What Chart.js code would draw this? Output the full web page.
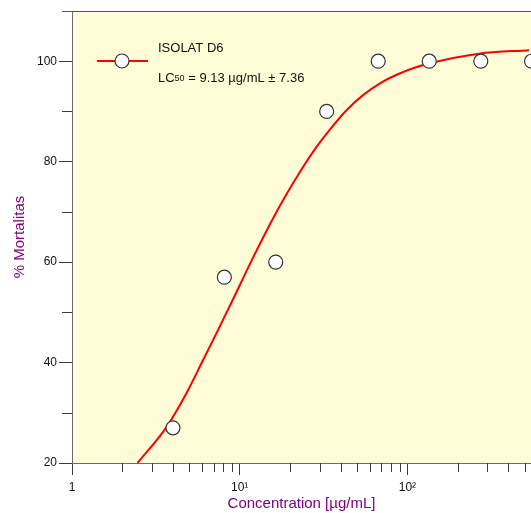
<!DOCTYPE html>
<html>
<head>
<meta charset="utf-8">
<script src="https://cdn.jsdelivr.net/npm/chart.js@4/dist/chart.umd.min.js"></script>
<style>
  html, body { margin: 0; padding: 0; background: #ffffff; overflow: hidden; }
  #wrap { width: 531px; height: 513px; position: relative; }
</style>
</head>
<body>
<div id="wrap"><canvas id="lcChart"></canvas></div>
<script>
// measured points
const concentrations = [4, 8.1, 16.4, 33, 67, 135, 274, 550];
const mortality = [27, 57, 60, 90, 100, 100, 100, 100];

// fitted curve
const fitX = [2.46, 3.67, 4.83, 6.05, 7.46, 9.16, 11.5, 14.5, 18.2, 22.9, 28.8, 34.5, 43.5, 54.6, 68.7, 86.3, 108, 136, 268, 532];
const fitY = [20, 27.2, 34.0, 40.5, 46.6, 52.7, 59.6, 66.3, 72.4, 78.0, 83.0, 86.4, 90.3, 93.3, 95.6, 97.3, 98.6, 99.6, 101.5, 102.2];

// axis ticks
const xMajorTicks = [1, 10, 100];
const xTickLabels = ['1', '10\u00b9', '10\u00b2'];
const xMinorTicks = [2, 3, 4, 5, 6, 7, 8, 9, 20, 30, 40, 50, 60, 70, 80, 90, 200, 300, 400, 500];
const yMajorTicks = [20, 40, 60, 80, 100];
const yMinorTicks = [30, 50, 70, 90, 110];

const legendName = 'ISOLAT D6';
const legendLC = ['LC', '50', ' = 9.13 \u00b5g/mL \u00b1 7.36'];

const FONT = '"Liberation Sans", Arial, sans-serif';
const AXIS_COLOR = '#6b6b6b';
const TICK_COLOR = '#3a3a3a';

// fill plot area, minor ticks, top border, legend
const decorPlugin = {
    id: 'decor',
    beforeDraw(chart) {
        const {ctx, chartArea: a} = chart;
        ctx.save();
        ctx.fillStyle = '#fffdd7';
        ctx.fillRect(a.left, a.top, a.right - a.left, a.bottom - a.top);
        ctx.restore();
    },
    afterDraw(chart) {
        const {ctx, chartArea: a, scales} = chart;
        ctx.save();
        ctx.strokeStyle = TICK_COLOR;
        ctx.lineWidth = 1;
        ctx.beginPath();
        xMinorTicks.forEach(v => {
            const px = Math.round(scales.x.getPixelForValue(v)) + 0.5;
            ctx.moveTo(px, a.bottom);
            ctx.lineTo(px, a.bottom + 9);
        });
        yMinorTicks.forEach(v => {
            const py = Math.round(scales.y.getPixelForValue(v)) + 0.5;
            ctx.moveTo(a.left - 10, py);
            ctx.lineTo(a.left, py);
        });
        ctx.stroke();

        // top frame line
        ctx.strokeStyle = '#555555';
        ctx.beginPath();
        ctx.moveTo(a.left - 10, Math.round(a.top) + 0.5);
        ctx.lineTo(a.right, Math.round(a.top) + 0.5);
        ctx.stroke();

        // legend
        const ly = a.top + 50;
        ctx.strokeStyle = '#ff0000';
        ctx.lineWidth = 2;
        ctx.beginPath();
        ctx.moveTo(a.left + 25, ly);
        ctx.lineTo(a.left + 76, ly);
        ctx.stroke();
        ctx.beginPath();
        ctx.arc(a.left + 50, ly, 7, 0, Math.PI * 2);
        ctx.fillStyle = '#ffffff';
        ctx.fill();
        ctx.lineWidth = 1.2;
        ctx.strokeStyle = '#333333';
        ctx.stroke();

        ctx.fillStyle = '#111111';
        ctx.textBaseline = 'middle';
        ctx.textAlign = 'left';
        ctx.font = '13px ' + FONT;
        let tx = a.left + 86;
        ctx.fillText(legendName, tx, a.top + 37);
        const y2 = a.top + 67;
        ctx.fillText(legendLC[0], tx, y2);
        tx += ctx.measureText(legendLC[0]).width;
        ctx.font = '9px ' + FONT;
        ctx.fillText(legendLC[1], tx, y2 + 1);
        tx += ctx.measureText(legendLC[1]).width;
        ctx.font = '13px ' + FONT;
        ctx.fillText(legendLC[2], tx, y2);
        ctx.restore();
    }
};

const ctx = document.getElementById('lcChart').getContext('2d');
new Chart(ctx, {
    type: 'scatter',
    data: {
        datasets: [{
            label: 'data',
            data: concentrations.map((c, i) => ({x: c, y: mortality[i]})),
            pointRadius: 7,
            pointBackgroundColor: '#ffffff',
            pointBorderColor: '#333333',
            pointBorderWidth: 1.2,
            showLine: false,
            clip: false
        }, {
            label: 'fit',
            data: fitX.map((c, i) => ({x: c, y: fitY[i]})),
            showLine: true,
            pointRadius: 0,
            borderColor: '#ff0000',
            borderWidth: 2,
            cubicInterpolationMode: 'monotone'
        }]
    },
    options: {
        responsive: true,
        maintainAspectRatio: false,
        animation: false,
        layout: { autoPadding: false, padding: { top: 11, right: 0, left: 0, bottom: 0 } },
        plugins: {
            legend: { display: false },
            tooltip: { enabled: false }
        },
        scales: {
            x: {
                type: 'logarithmic',
                min: 1,
                max: 546,
                afterBuildTicks: scale => {
                    scale.ticks = xMajorTicks.concat(xMinorTicks)
                        .sort((p, q) => p - q)
                        .map(v => ({value: v}));
                },
                afterFit: scale => { scale.height = 50; },
                ticks: {
                    autoSkip: false,
                    maxRotation: 0,
                    padding: 5,
                    color: '#111111',
                    font: { family: FONT, size: 12 },
                    callback: value => {
                        const i = xMajorTicks.indexOf(value);
                        return i >= 0 ? xTickLabels[i] : '';
                    }
                },
                grid: {
                    drawOnChartArea: false,
                    drawTicks: true,
                    tickLength: 12,
                    tickColor: c => (c.tick && xMajorTicks.includes(c.tick.value)) ? TICK_COLOR : 'rgba(0,0,0,0)'
                },
                border: { display: true, color: AXIS_COLOR, width: 1 },
                title: {
                    display: true,
                    text: 'Concentration [\u00b5g/mL]',
                    color: '#800080',
                    font: { family: FONT, size: 15 },
                    padding: { top: 0, bottom: 0 }
                }
            },
            y: {
                min: 20,
                max: 110,
                afterBuildTicks: scale => {
                    scale.ticks = yMajorTicks.concat(yMinorTicks)
                        .sort((p, q) => p - q)
                        .map(v => ({value: v}));
                },
                afterFit: scale => { scale.width = 72; },
                ticks: {
                    autoSkip: false,
                    padding: 2,
                    color: '#111111',
                    font: { family: FONT, size: 12 },
                    callback: value => yMajorTicks.includes(value) ? String(value) : ''
                },
                grid: {
                    drawOnChartArea: false,
                    drawTicks: true,
                    tickLength: 13,
                    tickColor: c => (c.tick && yMajorTicks.includes(c.tick.value)) ? TICK_COLOR : 'rgba(0,0,0,0)'
                },
                border: { display: true, color: AXIS_COLOR, width: 1 },
                title: {
                    display: true,
                    text: '% Mortalitas',
                    color: '#800080',
                    font: { family: FONT, size: 15 },
                    padding: { top: 11, bottom: 0 }
                }
            }
        }
    },
    plugins: [decorPlugin]
});
</script>
</body>
</html>
